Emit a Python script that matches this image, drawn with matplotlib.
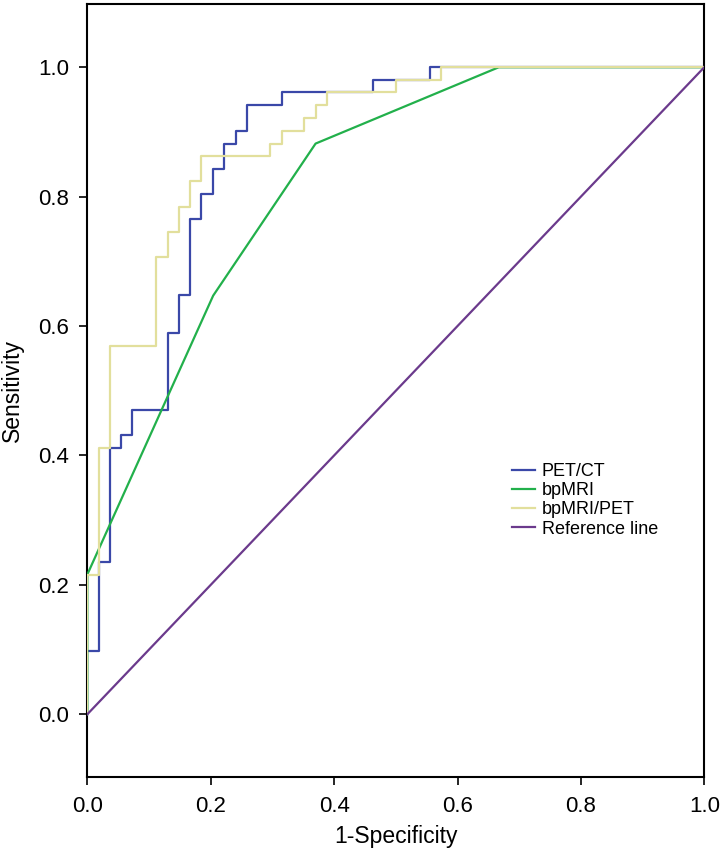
import matplotlib
matplotlib.use("Agg")
import matplotlib.pyplot as plt

plt.rcParams['font.family'] = ['Liberation Sans', 'DejaVu Sans']

# ROC step corners: (1-specificity, sensitivity) after each vertical jump
petct_fpr = [0.0, 0.0, 0.019, 0.037, 0.055, 0.073, 0.130, 0.148, 0.167, 0.185,
             0.204, 0.222, 0.241, 0.259, 0.315, 0.463, 0.556, 1.0]
petct_tpr = [0.0, 0.098, 0.235, 0.412, 0.432, 0.470, 0.589, 0.648, 0.765, 0.804,
             0.843, 0.882, 0.902, 0.941, 0.961, 0.980, 1.0, 1.0]

bpmri_fpr = [0.0, 0.0, 0.204, 0.370, 0.667, 1.0]
bpmri_tpr = [0.0, 0.216, 0.647, 0.882, 1.0, 1.0]

combo_fpr = [0.0, 0.0, 0.019, 0.037, 0.111, 0.130, 0.148, 0.167, 0.185, 0.296,
             0.315, 0.352, 0.370, 0.389, 0.500, 0.574, 1.0]
combo_tpr = [0.0, 0.216, 0.412, 0.569, 0.706, 0.745, 0.784, 0.824, 0.863, 0.882,
             0.902, 0.922, 0.941, 0.961, 0.980, 1.0, 1.0]

ref_x = [0.0, 1.0]
ref_y = [0.0, 1.0]

labels = ["PET/CT", "bpMRI", "bpMRI/PET", "Reference line"]
colors = ["#3a48a8", "#22b04b", "#e2df9c", "#6b3a8c"]

xticks = [0.0, 0.2, 0.4, 0.6, 0.8, 1.0]
yticks = [0.0, 0.2, 0.4, 0.6, 0.8, 1.0]

fig = plt.figure(figsize=(7.25, 8.56), dpi=100)
W, H = 725, 856
left, right, bottom, top = 87.3, 704.3, 776.7, 4.0
ax = fig.add_axes([left / W, 1 - bottom / H, (right - left) / W, (bottom - top) / H])

lw = 1.6
l1, = ax.plot(petct_fpr, petct_tpr, drawstyle='steps-post', color=colors[0], lw=lw, zorder=2)
l2, = ax.plot(bpmri_fpr, bpmri_tpr, color=colors[1], lw=lw, zorder=3)
l3, = ax.plot(combo_fpr, combo_tpr, drawstyle='steps-post', color=colors[2], lw=lw, zorder=4)
l4, = ax.plot(ref_x, ref_y, color=colors[3], lw=lw, zorder=5)

ax.set_xlim(0, 1.0)
ax.set_ylim(-0.0964, 1.0977)
ax.set_xticks(xticks)
ax.set_yticks(yticks)
ax.set_xticklabels([f"{v:.1f}" for v in xticks])
ax.set_yticklabels([f"{v:.1f}" for v in yticks])
ax.tick_params(direction='out', length=6, width=1.2, labelsize=16, color='black')
ax.tick_params(axis='x', pad=8)
ax.tick_params(axis='y', pad=7)
for s in ax.spines.values():
    s.set_linewidth(1.5)
    s.set_color('black')

ax.set_xlabel("1-Specificity", fontsize=16.5, labelpad=6)
ax.set_ylabel("Sensitivity", fontsize=16.5)
ax.yaxis.set_label_coords(-0.102, 0.5)

leg = ax.legend([l1, l2, l3, l4], labels, loc='upper left',
                bbox_to_anchor=((512 - left) / (right - left), 1 - (463 - top) / (bottom - top)),
                frameon=False, fontsize=13, handlelength=1.3, handletextpad=0.35,
                labelspacing=0.12, borderpad=0, borderaxespad=0)

fig.savefig("out.png", dpi=100)
